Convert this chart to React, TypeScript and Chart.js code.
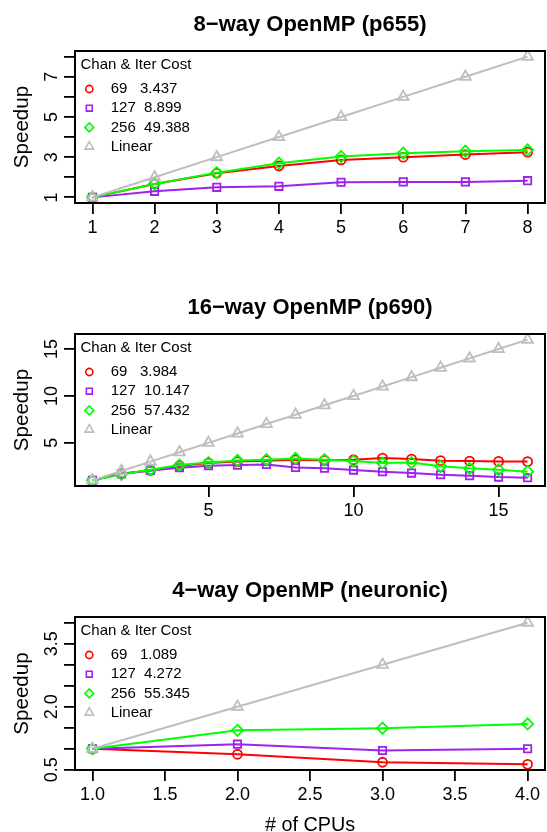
import React, { useEffect, useRef } from 'react';
import { Chart, registerables } from 'chart.js';

Chart.register(...registerables);

const FONT = "'Liberation Sans', Arial, Helvetica, sans-serif";

// ---------- shared ----------
const LEGEND_TITLE = 'Chan & Iter Cost';
const SERIES_COLORS = ['#FF0000', '#A020F0', '#00FF00', '#BEBEBE'];
const SERIES_STYLES = ['circle', 'rect', 'rectRot', 'triangle'];
const SERIES_RADII = [4.5, 5.2, 5.6, 6.2];

// ---------- panel 1: 8-way OpenMP (p655) ----------
const P1_TITLE = '8\u2212way OpenMP (p655)';
const P1_CPUS = [1, 2, 3, 4, 5, 6, 7, 8];
const P1_C69 = [1, 1.67, 2.2, 2.56, 2.86, 3.0, 3.13, 3.25];
const P1_C127 = [1, 1.3, 1.5, 1.55, 1.75, 1.77, 1.77, 1.83];
const P1_C256 = [1, 1.67, 2.23, 2.7, 3.03, 3.2, 3.3, 3.36];
const P1_LINEAR = [1, 2, 3, 4, 5, 6, 7, 8];
const P1_LEGEND = ['69   3.437', '127  8.899', '256  49.388', 'Linear'];
const P1_X_TICKS = [1, 2, 3, 4, 5, 6, 7, 8];
const P1_Y_TICKS = [1, 2, 3, 4, 5, 6, 7, 8];
const P1_Y_LABELS = ['1', '3', '5', '7'];

// ---------- panel 2: 16-way OpenMP (p690) ----------
const P2_TITLE = '16\u2212way OpenMP (p690)';
const P2_CPUS = [1, 2, 3, 4, 5, 6, 7, 8, 9, 10, 11, 12, 13, 14, 15, 16];
const P2_C69 = [1, 1.7, 2.06, 2.56, 2.84, 3.0, 3.1, 3.2, 3.13, 3.2, 3.38, 3.27, 3.1, 3.06, 3.02, 3.0];
const P2_C127 = [1, 1.7, 2.06, 2.35, 2.56, 2.63, 2.7, 2.38, 2.3, 2.1, 1.92, 1.78, 1.6, 1.5, 1.35, 1.28];
const P2_C256 = [1, 1.64, 2.13, 2.63, 2.9, 3.13, 3.2, 3.34, 3.2, 3.06, 2.84, 2.9, 2.5, 2.28, 2.13, 1.92];
const P2_LINEAR = [1, 2, 3, 4, 5, 6, 7, 8, 9, 10, 11, 12, 13, 14, 15, 16];
const P2_LEGEND = ['69   3.984', '127  10.147', '256  57.432', 'Linear'];
const P2_X_TICKS = [5, 10, 15];
const P2_Y_TICKS = [5, 10, 15];
const P2_Y_LABELS = ['5', '10', '15'];

// ---------- panel 3: 4-way OpenMP (neuronic) ----------
const P3_TITLE = '4\u2212way OpenMP (neuronic)';
const P3_CPUS = [1, 2, 3, 4];
const P3_C69 = [1, 0.87, 0.68, 0.63];
const P3_C127 = [1, 1.11, 0.96, 1.0];
const P3_C256 = [1, 1.44, 1.49, 1.59];
const P3_LINEAR = [1, 2, 3, 4];
const P3_LEGEND = ['69   1.089', '127  4.272', '256  55.345', 'Linear'];
const P3_X_TICKS = [1, 1.5, 2, 2.5, 3, 3.5, 4];
const P3_Y_TICKS = [0.5, 1, 1.5, 2, 2.5, 3, 3.5, 4];
const P3_Y_LABELS = ['0.5', '2.0', '3.5'];

type PanelCfg = {
  title: string;
  cpus: number[];
  series: number[][];
  legend: string[];
  xTicks: number[];
  xDigits: number;
  yTicks: number[];
  yLabels: string[];
  xRange: [number, number];
  yRange: [number, number];
  height: number;
  xAxisHeight: number;
  bottomPad: number;
  xTitle?: string;
};

function range4(vals: number[]): [number, number] {
  const lo = Math.min(...vals);
  const hi = Math.max(...vals);
  const d = (hi - lo) * 0.04;
  return [lo - d, hi + d];
}

const PANELS: PanelCfg[] = [
  {
    title: P1_TITLE, cpus: P1_CPUS, series: [P1_C69, P1_C127, P1_C256, P1_LINEAR], legend: P1_LEGEND,
    xTicks: P1_X_TICKS, xDigits: 0, yTicks: P1_Y_TICKS, yLabels: P1_Y_LABELS,
    xRange: range4(P1_CPUS), yRange: range4([...P1_C69, ...P1_C127, ...P1_C256, ...P1_LINEAR]),
    height: 283, xAxisHeight: 40, bottomPad: 40,
  },
  {
    title: P2_TITLE, cpus: P2_CPUS, series: [P2_C69, P2_C127, P2_C256, P2_LINEAR], legend: P2_LEGEND,
    xTicks: P2_X_TICKS, xDigits: 0, yTicks: P2_Y_TICKS, yLabels: P2_Y_LABELS,
    xRange: range4(P2_CPUS), yRange: range4([...P2_C69, ...P2_C127, ...P2_C256, ...P2_LINEAR]),
    height: 283, xAxisHeight: 40, bottomPad: 40,
  },
  {
    title: P3_TITLE, cpus: P3_CPUS, series: [P3_C69, P3_C127, P3_C256, P3_LINEAR], legend: P3_LEGEND,
    xTicks: P3_X_TICKS, xDigits: 1, yTicks: P3_Y_TICKS, yLabels: P3_Y_LABELS,
    xRange: range4(P3_CPUS), yRange: range4([...P3_C69, ...P3_C127, ...P3_C256, ...P3_LINEAR]),
    height: 266, xAxisHeight: 62, bottomPad: 0, xTitle: '# of CPUs',
  },
];

function drawSymbol(ctx: CanvasRenderingContext2D, style: string, x: number, y: number, r: number) {
  ctx.beginPath();
  if (style === 'circle') {
    ctx.arc(x, y, r, 0, Math.PI * 2);
  } else if (style === 'rect') {
    const s = r * Math.SQRT1_2;
    ctx.rect(x - s, y - s, 2 * s, 2 * s);
  } else if (style === 'rectRot') {
    ctx.moveTo(x, y - r);
    ctx.lineTo(x + r, y);
    ctx.lineTo(x, y + r);
    ctx.lineTo(x - r, y);
    ctx.closePath();
  } else {
    const a = (2 * Math.PI) / 3;
    ctx.moveTo(x, y - r);
    ctx.lineTo(x + Math.sin(a) * r, y - Math.cos(a) * r);
    ctx.lineTo(x + Math.sin(2 * a) * r, y - Math.cos(2 * a) * r);
    ctx.closePath();
  }
  ctx.stroke();
}

function makeDecor(cfg: PanelCfg) {
  return {
    id: 'decor',
    afterDraw(chart: any) {
      const { ctx, chartArea } = chart;
      const { left, right, top, bottom } = chartArea;
      ctx.save();
      // box
      ctx.strokeStyle = '#000';
      ctx.lineWidth = 2;
      ctx.strokeRect(left, top, right - left, bottom - top);
      // main title
      ctx.fillStyle = '#000';
      ctx.font = `bold 22px ${FONT}`;
      ctx.textAlign = 'center';
      ctx.textBaseline = 'alphabetic';
      ctx.fillText(cfg.title, (left + right) / 2, top - 20);
      // y tick labels (parallel to axis)
      const ys = chart.scales.y;
      ctx.font = `18px ${FONT}`;
      cfg.yLabels.forEach((lab) => {
        const py = ys.getPixelForValue(parseFloat(lab));
        ctx.save();
        ctx.translate(left - 18.5, py);
        ctx.rotate(-Math.PI / 2);
        ctx.textAlign = 'center';
        ctx.textBaseline = 'alphabetic';
        ctx.fillText(lab, 0, 0);
        ctx.restore();
      });
      // legend
      ctx.font = `15px ${FONT}`;
      ctx.textAlign = 'left';
      ctx.textBaseline = 'middle';
      ctx.fillStyle = '#000';
      ctx.fillText(LEGEND_TITLE, left + 5.5, top + 14.3);
      cfg.legend.forEach((lab, i) => {
        const ry = top + 38 + i * 19.2;
        ctx.strokeStyle = SERIES_COLORS[i];
        ctx.lineWidth = 1.6;
        drawSymbol(ctx, SERIES_STYLES[i], left + 14.3, ry, SERIES_RADII[i] * 0.8);
        ctx.fillStyle = '#000';
        ctx.fillText(lab, left + 35.7, ry);
      });
      ctx.restore();
    },
  };
}

function Panel({ cfg, top }: { cfg: PanelCfg; top: number }) {
  const ref = useRef<HTMLCanvasElement | null>(null);
  useEffect(() => {
    if (!ref.current) return;
    const drawOrder = [3, 2, 1, 0];
    const datasets = cfg.series.map((vals, i) => ({
      label: cfg.legend[i],
      data: cfg.cpus.map((c, k) => ({ x: c, y: vals[k] })),
      borderColor: SERIES_COLORS[i],
      backgroundColor: 'rgba(0,0,0,0)',
      pointBackgroundColor: 'rgba(0,0,0,0)',
      pointBorderColor: SERIES_COLORS[i],
      pointStyle: SERIES_STYLES[i],
      pointRadius: SERIES_RADII[i],
      pointBorderWidth: 1.8,
      borderWidth: 2,
      tension: 0,
      fill: false,
      order: drawOrder[i],
    }));
    const chart = new Chart(ref.current, {
      type: 'line',
      data: { datasets } as any,
      options: {
        animation: false,
        responsive: false,
        events: [],
        layout: { autoPadding: false, padding: { top: 51, right: 2, bottom: cfg.bottomPad, left: 0 } },
        plugins: {
          legend: { display: false },
          title: { display: false },
          tooltip: { enabled: false },
        },
        scales: {
          x: {
            type: 'linear',
            min: cfg.xRange[0],
            max: cfg.xRange[1],
            afterBuildTicks: (s: any) => {
              s.ticks = cfg.xTicks.map((v) => ({ value: v }));
            },
            afterFit: (s: any) => {
              s.height = cfg.xAxisHeight;
              s.paddingLeft = 0;
              s.paddingRight = 0;
            },
            grid: {
              display: true,
              drawOnChartArea: false,
              drawTicks: true,
              tickLength: 11,
              color: '#000',
              lineWidth: 1.8,
            },
            border: { display: false },
            ticks: {
              autoSkip: false,
              maxRotation: 0,
              minRotation: 0,
              padding: 3,
              color: '#000',
              font: { size: 18, family: FONT },
              callback: (v: any) => Number(v).toFixed(cfg.xDigits),
            },
            title: cfg.xTitle
              ? {
                  display: true,
                  text: cfg.xTitle,
                  color: '#000',
                  font: { size: 19.8, family: FONT, lineHeight: 0.62 },
                  padding: 0,
                }
              : { display: false },
          },
          y: {
            type: 'linear',
            min: cfg.yRange[0],
            max: cfg.yRange[1],
            afterBuildTicks: (s: any) => {
              s.ticks = cfg.yTicks.map((v) => ({ value: v }));
            },
            afterFit: (s: any) => {
              s.width = 75;
              s.paddingTop = 0;
              s.paddingBottom = 0;
            },
            grid: {
              display: true,
              drawOnChartArea: false,
              drawTicks: true,
              tickLength: 11,
              color: '#000',
              lineWidth: 1.8,
            },
            border: { display: false },
            ticks: { display: false },
            title: {
              display: true,
              text: 'Speedup',
              color: '#000',
              font: { size: 20.6, family: FONT, lineHeight: 1 },
              padding: { top: 12, bottom: 0 },
            },
          },
        },
      } as any,
      plugins: [makeDecor(cfg)],
    });
    return () => chart.destroy();
  }, [cfg]);
  return (
    <canvas
      ref={ref}
      width={547}
      height={cfg.height}
      style={{ position: 'absolute', left: 0, top, width: 547, height: cfg.height }}
    />
  );
}

export default function App() {
  Chart.defaults.font.family = FONT;
  return (
    <div
      style={{
        position: 'absolute',
        left: 0,
        top: 0,
        width: 547,
        height: 832,
        overflow: 'hidden',
        background: '#fff',
      }}
    >
      <Panel cfg={PANELS[0]} top={0} />
      <Panel cfg={PANELS[1]} top={283} />
      <Panel cfg={PANELS[2]} top={566} />
    </div>
  );
}
